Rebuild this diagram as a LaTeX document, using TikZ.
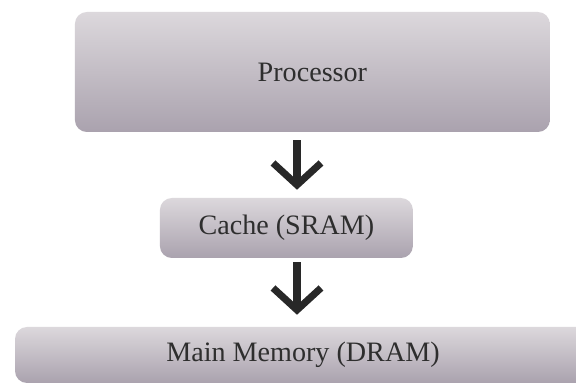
\documentclass[tikz,border=0pt]{standalone}
\usepackage{fontspec}
\setmainfont{Liberation Serif}
\usetikzlibrary{positioning,arrows.meta,shadows}

\definecolor{boxtop}{RGB}{220,216,220}
\definecolor{boxbot}{RGB}{170,162,174}
\definecolor{arrowgray}{RGB}{40,40,40}

\tikzset{
    membox/.style={rounded corners=0.3cm, top color=boxtop, bottom color=boxbot,
        draw=none, font=\fontsize{20}{24}\selectfont, text=black!82, inner sep=0pt},
    flow/.style={line width=5pt, draw=arrowgray,
        -{Straight Barb[length=0.55cm, width=1.2cm]}}
}

\begin{document}
\begin{tikzpicture}

        \clip (0, 0) rectangle (14.4, -9.625);
        \fill[white] (0, 0) rectangle (14.4, -9.625);

        \node[membox, minimum width=11.875cm, minimum height=3cm] (proc) at (7.81, -1.8) {Processor};
        \node[membox, minimum width=6.325cm, minimum height=1.5cm] (cache) at (7.16, -5.7) {Cache (SRAM)};
        \node[membox, minimum width=14.4cm, minimum height=1.4cm] (dram) at (7.575, -8.875) {Main Memory (DRAM)};

        \draw[flow] ([xshift=-0.385cm, yshift=-0.2cm]proc.south) -- ([xshift=0.265cm, yshift=0.2cm]cache.north);
        \draw[flow] ([xshift=0.265cm, yshift=-0.1cm]cache.south) -- ([xshift=-0.15cm, yshift=0.3cm]dram.north);

\end{tikzpicture}
\end{document}
